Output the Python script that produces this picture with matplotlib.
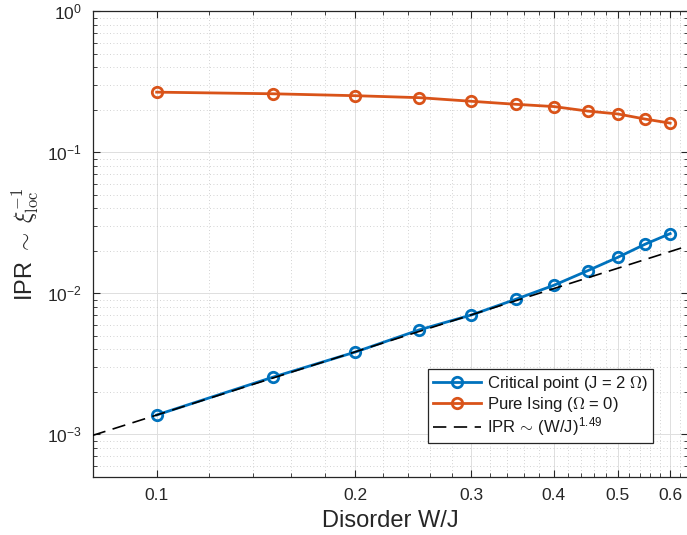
import numpy as np
import matplotlib
matplotlib.use("Agg")
import matplotlib.pyplot as plt
from matplotlib.ticker import FixedLocator, NullFormatter, LogLocator, FixedFormatter

plt.rcParams['font.family'] = ['Liberation Sans', 'DejaVu Sans']
plt.rcParams['mathtext.fontset'] = 'cm'

# Disorder strengths W/J
disorder = [0.10, 0.15, 0.20, 0.25, 0.30, 0.35, 0.40, 0.45, 0.50, 0.55, 0.60]
# IPR at the critical point (J = 2 Omega)
ipr_critical = [0.00137, 0.00254, 0.00383, 0.0055, 0.00702, 0.00906,
                0.0114, 0.01446, 0.0180, 0.0223, 0.0265]
# IPR for the pure Ising chain (Omega = 0)
ipr_ising = [0.267, 0.260, 0.252, 0.244, 0.230, 0.219,
             0.211, 0.196, 0.187, 0.172, 0.161]
# power-law fit IPR ~ A (W/J)^nu
fit_exponent = 1.49
fit_prefactor = 0.0423

x_ticks = [0.1, 0.2, 0.3, 0.4, 0.5, 0.6]
x_tick_labels = ['0.1', '0.2', '0.3', '0.4', '0.5', '0.6']
y_ticks = [1e-3, 1e-2, 1e-1, 1e0]
y_tick_labels = [r'$\mathregular{10^{-3}}$', r'$\mathregular{10^{-2}}$',
                 r'$\mathregular{10^{-1}}$', r'$\mathregular{10^{0}}$']
x_limits = (0.08, 0.6386)
y_limits = (5.0e-4, 1.0)

blue = '#0072BD'
orange = '#D95319'
axis_color = '#262626'

W, H = 687, 535
fig = plt.figure(figsize=(W / 100, H / 100), dpi=100)
left, right, top, bottom = 92.7, 688.0, 11.3, 476.7
ax = fig.add_axes([left / W, 1 - bottom / H, (right - left) / W, (bottom - top) / H])

ax.set_xscale('log')
ax.set_yscale('log')

l1, = ax.plot(disorder, ipr_critical, '-o', color=blue, lw=2.0, ms=7.5,
              mfc='none', mew=2.0, label=r'Critical point (J = 2 $\Omega$)', zorder=3)
l2, = ax.plot(disorder, ipr_ising, '-o', color=orange, lw=2.0, ms=7.5,
              mfc='none', mew=2.0, label=r'Pure Ising ($\Omega$ = 0)', zorder=3)
x_fit = np.array(x_limits)
l3, = ax.plot(x_fit, fit_prefactor * x_fit ** fit_exponent, color='black',
              lw=1.2, linestyle=(0, (8, 4.5)),
              label=r'IPR $\!\sim\!$ (W/J)$^{\mathregular{1.49}}$', zorder=4)

ax.set_xlim(*x_limits)
ax.set_ylim(*y_limits)

ax.xaxis.set_major_locator(FixedLocator(x_ticks))
ax.xaxis.set_major_formatter(FixedFormatter(x_tick_labels))
minor_x = [v for v in np.round(np.arange(0.12, 0.63, 0.02), 2) if abs(v * 10 - round(v * 10)) > 1e-6]
ax.xaxis.set_minor_locator(FixedLocator(minor_x))
ax.xaxis.set_minor_formatter(NullFormatter())

ax.yaxis.set_major_locator(FixedLocator(y_ticks))
ax.yaxis.set_major_formatter(FixedFormatter(y_tick_labels))
ax.yaxis.set_minor_locator(LogLocator(base=10, subs=np.arange(2, 10)))
ax.yaxis.set_minor_formatter(NullFormatter())

ax.grid(True, which='major', color='#dedede', lw=0.7, linestyle='-', zorder=0)
ax.grid(True, which='minor', color='#c4c4c4', lw=0.6, linestyle=(0, (1, 3)), zorder=0)
ax.set_axisbelow(True)

ax.tick_params(which='both', direction='in', top=True, right=True, colors=axis_color,
               labelsize=12.5)
ax.tick_params(which='major', length=5, width=0.8)
ax.tick_params(which='minor', length=2.8, width=0.6)
ax.tick_params(axis='x', which='major', pad=8)
ax.tick_params(axis='y', which='major', pad=8)
for s in ax.spines.values():
    s.set_color(axis_color)
    s.set_linewidth(0.9)

ax.set_xlabel('Disorder W/J', fontsize=17, color=axis_color, labelpad=5)
ax.set_ylabel(r'IPR $\sim\;\xi_{\rm loc}^{-1}$', fontsize=17, color=axis_color, labelpad=4)

leg = ax.legend(handles=[l1, l2, l3], loc='upper left',
                bbox_to_anchor=(428.3 / W, 1 - 369 / H), bbox_transform=fig.transFigure,
                borderaxespad=0, fontsize=12, frameon=True, fancybox=False,
                edgecolor=axis_color, framealpha=1, handlelength=2.85,
                handletextpad=0.35, labelspacing=0.1, borderpad=0.3)
leg.get_frame().set_linewidth(0.9)
for t in leg.get_texts():
    t.set_color('#1a1a1a')

fig.savefig('out.png', dpi=100)
